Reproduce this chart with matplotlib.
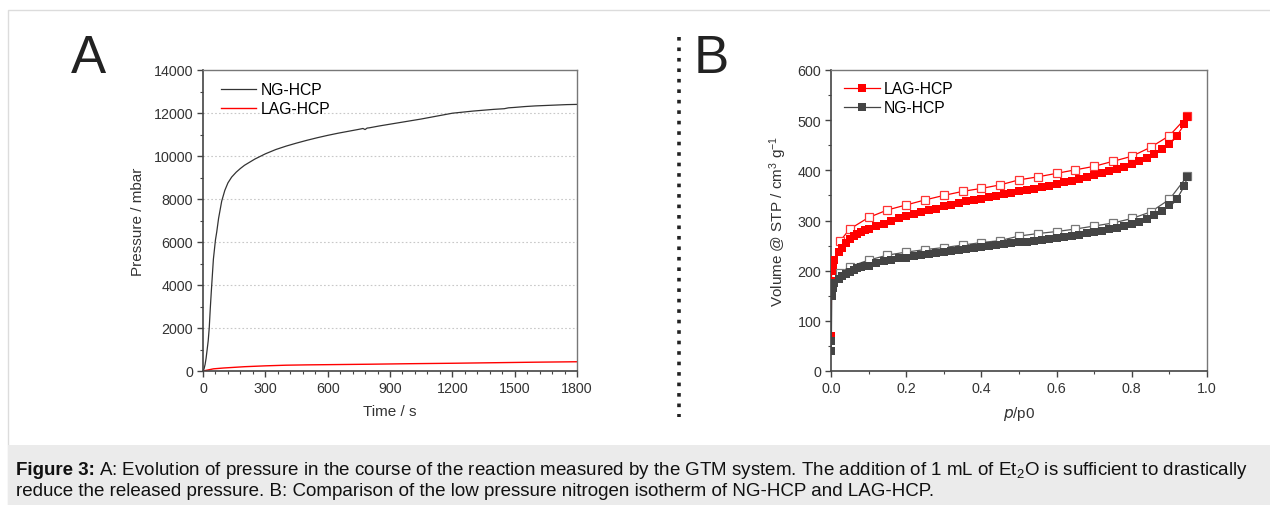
import matplotlib
matplotlib.use("Agg")
import matplotlib.pyplot as plt
from matplotlib.patches import Rectangle
from matplotlib.ticker import MultipleLocator

plt.rcParams['font.family'] = ['Liberation Sans', 'DejaVu Sans']
plt.rcParams['mathtext.default'] = 'regular'

# ---- panel A: pressure vs time ----
ng_time = [0, 5, 10, 15, 20, 25, 30, 35, 40, 50, 60, 66, 75, 90, 105, 120, 138, 160, 180,
           200, 250, 300, 350, 400, 450, 500, 550, 600, 650, 700, 750, 770, 780, 790,
           800, 850, 900, 950, 1000, 1050, 1100, 1150, 1200, 1250, 1300, 1350, 1400,
           1450, 1470, 1500, 1550, 1600, 1650, 1700, 1750, 1800]
ng_pressure = [0, 100, 300, 600, 1000, 1400, 2000, 2900, 3700, 5200, 6100, 6460, 7100,
               7900, 8400, 8750, 9020, 9250, 9420, 9570, 9860, 10100, 10300, 10460, 10600,
               10730, 10850, 10960, 11060, 11150, 11240, 11280, 11230, 11300, 11310,
               11400, 11480, 11560, 11640, 11720, 11810, 11900, 11990, 12040, 12090,
               12130, 12170, 12200, 12240, 12260, 12300, 12330, 12350, 12370, 12390, 12400]
lag_time = [0, 20, 50, 100, 150, 200, 300, 400, 500, 600, 800, 1000, 1200, 1400, 1600, 1800]
lag_pressure = [0, 40, 100, 140, 170, 200, 240, 270, 285, 295, 315, 340, 360, 385, 410, 430]

# ---- panel B: N2 isotherms ----
ads_p = [0.0005, 0.001, 0.002, 0.004, 0.006, 0.009, 0.02, 0.03, 0.04, 0.05, 0.06, 0.07,
         0.08, 0.09, 0.10, 0.12, 0.14, 0.16, 0.18, 0.20, 0.22, 0.24, 0.26, 0.28, 0.30,
         0.32, 0.34, 0.36, 0.38, 0.40, 0.42, 0.44, 0.46, 0.48, 0.50, 0.52, 0.54, 0.56,
         0.58, 0.60, 0.62, 0.64, 0.66, 0.68, 0.70, 0.72, 0.74, 0.76, 0.78, 0.80, 0.82,
         0.84, 0.86, 0.88, 0.90, 0.92, 0.94, 0.948]
lag_ads = [70, 180, 200, 212, 218, 222, 238, 245, 256, 263, 269, 274, 278, 281, 284, 290,
           294, 299, 304, 308, 313, 316, 321, 323, 328, 331, 334, 338, 340, 343, 346, 349,
           352, 355, 358, 361, 363, 367, 369, 373, 376, 379, 383, 387, 391, 395, 398, 403,
           407, 412, 419, 424, 433, 442, 453, 469, 492, 507]
ng_ads = [40, 60, 150, 165, 172, 176, 184, 190, 194, 197, 202, 205, 207, 209, 210, 216,
          219, 221, 225, 226, 229, 231, 233, 235, 237, 239, 241, 243, 245, 247, 249, 251,
          253, 255, 257, 258, 260, 262, 264, 266, 268, 270, 272, 275, 278, 280, 283, 286,
          289, 293, 297, 302, 310, 318, 330, 343, 369, 387]
des_p = [0.948, 0.90, 0.85, 0.80, 0.75, 0.70, 0.65, 0.60, 0.55, 0.50, 0.45, 0.40, 0.35,
         0.30, 0.25, 0.20, 0.15, 0.10, 0.05, 0.025]
lag_des = [508, 469, 446, 428, 418, 408, 401, 394, 387, 381, 371, 364, 358, 350, 341, 331,
           321, 306, 283, 260]
ng_des = [389, 342, 317, 304, 295, 289, 283, 278, 274, 269, 260, 256, 251, 246, 242, 237,
          231, 221, 208, 196]

W, H = 1270, 506
fig = plt.figure(figsize=(W / 100, H / 100), dpi=100)


def box(x0, y0, x1, y1):
    # pixel box (top-left origin) -> figure fraction rect
    return [x0 / W, 1 - y1 / H, (x1 - x0) / W, (y1 - y0) / H]


# frame and caption background
fig.patches.append(Rectangle((8 / W, 0), 1, 1 - 11 / H, transform=fig.transFigure,
                             facecolor='white', edgecolor='#dcdcdc', lw=1, zorder=-2))
fig.patches.append(Rectangle((8 / W, 0), 1, 60 / H, transform=fig.transFigure,
                             facecolor='#ebebeb', edgecolor='none', zorder=-1))

tick_col = '#333333'
label_fs = 11
tick_fs = 10.3
leg_fs = 11.3


def style(ax):
    ax.patch.set_alpha(0)
    for s in ['left', 'bottom']:
        ax.spines[s].set_color('#444444')
        ax.spines[s].set_linewidth(1.2)
    for s in ['top', 'right']:
        ax.spines[s].set_color('#777777')
        ax.spines[s].set_linewidth(1.0)
    ax.tick_params(which='both', direction='out', top=False, right=False,
                   colors='#444444', labelcolor=tick_col, labelsize=tick_fs)
    ax.tick_params(which='major', length=4, width=1, pad=3)
    ax.tick_params(which='minor', length=2.5, width=0.8)


# ---- A ----
axA = fig.add_axes(box(203, 71, 577, 372))
axA.plot(ng_time, ng_pressure, color='#333333', lw=0.9, label='NG-HCP')
axA.plot(lag_time, lag_pressure, color='#ff0000', lw=1.0, label='LAG-HCP')
axA.set_xlim(0, 1800)
axA.set_ylim(0, 14000)
axA.xaxis.set_major_locator(MultipleLocator(300))
axA.xaxis.set_minor_locator(MultipleLocator(60))
axA.yaxis.set_major_locator(MultipleLocator(2000))
axA.yaxis.set_minor_locator(MultipleLocator(1000))
for yv in range(2000, 14000, 2000):
    axA.axhline(yv, color='#c8c8c8', lw=0.8, ls=(0, (1.5, 2)), zorder=0)
axA.set_xlabel('Time / s', fontsize=label_fs, color=tick_col, labelpad=7)
axA.set_ylabel('Pressure / mbar', fontsize=label_fs, color=tick_col, labelpad=6)
style(axA)
axA.legend(loc='upper left', frameon=False, fontsize=leg_fs, handlelength=2.2,
           handletextpad=0.3, labelspacing=0.25, borderaxespad=0,
           bbox_to_anchor=(12 / 374, 1 - 6 / 301))

# ---- B ----
axB = fig.add_axes(box(831, 71, 1207, 372))
ms = 5.2
axB.plot(des_p, lag_des, color='#ff0000', lw=0.9, marker='s', ms=ms, mfc='white',
         mec='#ff3333', mew=0.9, zorder=2)
axB.plot(des_p, ng_des, color='#555555', lw=0.9, marker='s', ms=ms, mfc='white',
         mec='#777777', mew=0.9, zorder=2)
axB.plot(ads_p, lag_ads, color='#ff0000', lw=0.9, marker='s', ms=ms, mfc='#ff0000',
         mec='#ff0000', mew=0, zorder=3, label='LAG-HCP')
axB.plot(ads_p, ng_ads, color='#444444', lw=0.9, marker='s', ms=ms, mfc='#444444',
         mec='#444444', mew=0, zorder=3, label='NG-HCP')
axB.set_xlim(0, 1.0)
axB.set_ylim(0, 600)
axB.xaxis.set_major_locator(MultipleLocator(0.2))
axB.xaxis.set_minor_locator(MultipleLocator(0.1))
axB.yaxis.set_major_locator(MultipleLocator(100))
axB.yaxis.set_minor_locator(MultipleLocator(50))
axB.xaxis.set_major_formatter(matplotlib.ticker.FormatStrFormatter('%.1f'))
axB.set_xlabel('$\\it{p}$/p0', fontsize=label_fs, color=tick_col, labelpad=7)
axB.set_ylabel('Volume @ STP / cm$^3$ g$^{-1}$', fontsize=label_fs, color=tick_col,
               labelpad=6)
style(axB)
axB.legend(loc='upper left', frameon=False, fontsize=leg_fs, handlelength=2.3,
           handletextpad=0.2, labelspacing=0.25, borderaxespad=0,
           bbox_to_anchor=(7 / 376, 1 - 5 / 301))

# panel letters
fig.text(88 / W, 1 - 73 / H, 'A', fontsize=38, color='#222222', ha='center', va='baseline')
fig.text(711 / W, 1 - 73 / H, 'B', fontsize=38, color='#222222', ha='center', va='baseline')

# dotted divider
fig.add_artist(plt.Line2D([679 / W, 679 / W], [1 - 38 / H, 1 - 418 / H],
                          transform=fig.transFigure, color='#222222', lw=2.6,
                          ls=(0, (1, 1.9))))

# caption
cap_fs = 13.5
renderer = fig.canvas.get_renderer()
t1 = fig.text(16 / W, 1 - 475 / H, 'Figure 3:', fontsize=cap_fs, fontweight='bold',
              color='#111111', va='baseline')
bb = t1.get_window_extent(renderer)
fig.text(bb.x1 / W + 4 / W, 1 - 475 / H,
         'A: Evolution of pressure in the course of the reaction measured by the GTM system. '
         'The addition of 1 mL of Et$_2$O is sufficient to drastically',
         fontsize=cap_fs, color='#111111', va='baseline')
fig.text(16 / W, 1 - 496 / H,
         'reduce the released pressure. B: Comparison of the low pressure nitrogen isotherm '
         'of NG-HCP and LAG-HCP.',
         fontsize=cap_fs, color='#111111', va='baseline')

fig.savefig('out.png', dpi=100)
